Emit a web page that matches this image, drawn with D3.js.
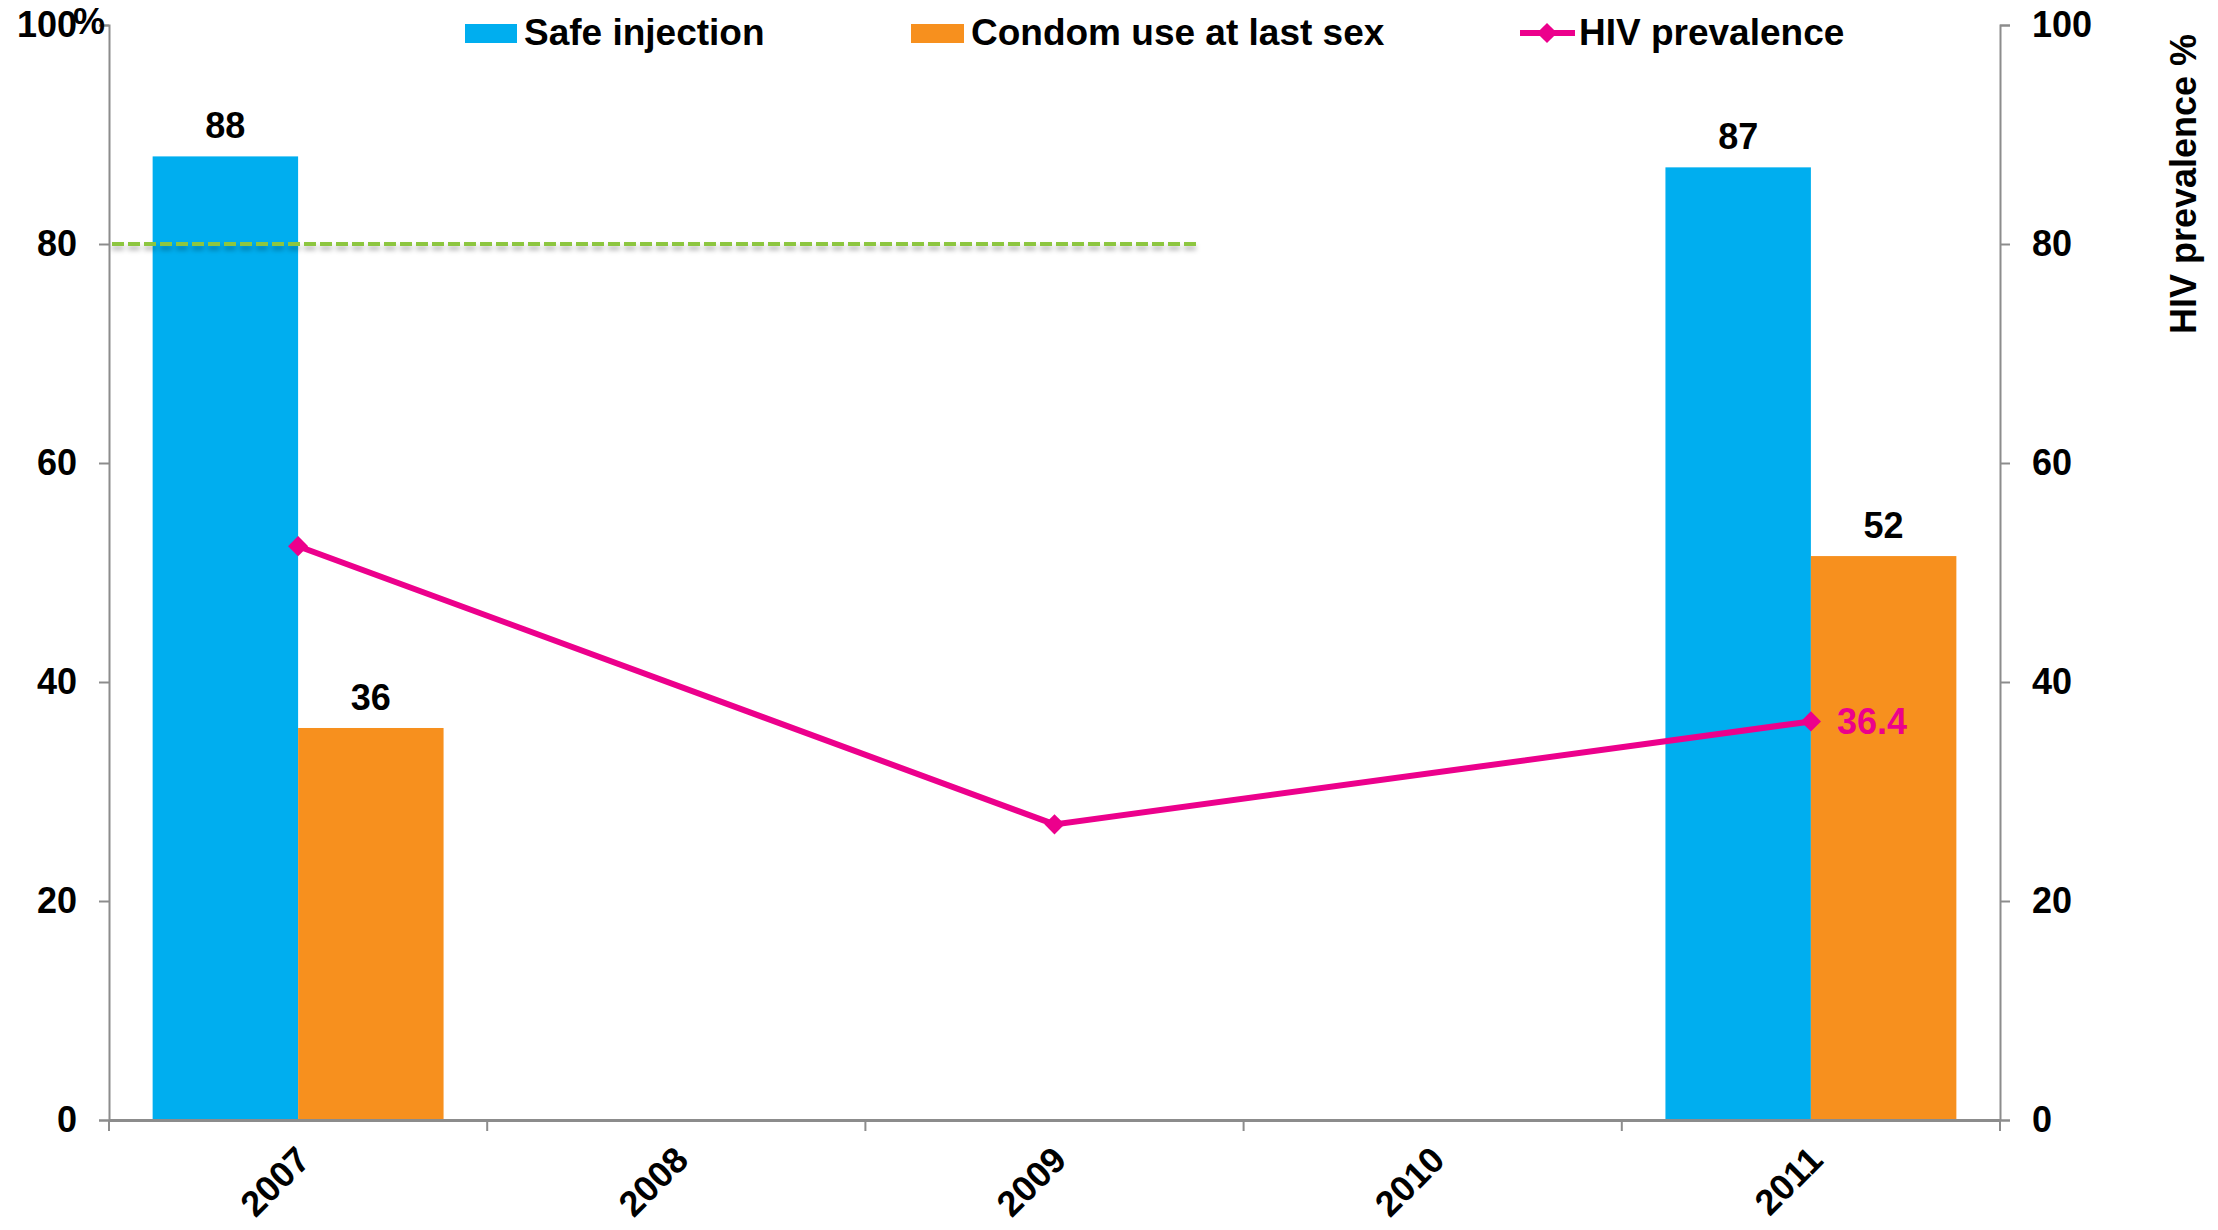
<!DOCTYPE html>
<html>
<head>
<meta charset="utf-8">
<script src="https://cdn.jsdelivr.net/npm/d3@7"></script>
<style>
  html, body { margin: 0; padding: 0; background: #fff; }
  svg { display: block; font-family: "Liberation Sans", Arial, sans-serif; font-weight: bold; }
</style>
</head>
<body>
<svg id="chart" width="2218" height="1230"></svg>
<script>
// ---- data ----
const years = ["2007", "2008", "2009", "2010", "2011"];
const seriesNames = ["Safe injection", "Condom use at last sex"];
const safeInjection = [88, null, null, null, 87];
const condomUse = [35.8, null, null, null, 51.5];
const barLabels = [["88", "36"], [null, null], [null, null], [null, null], ["87", "52"]];
const hivPrevalence = [52.4, null, 27.0, null, 36.4];
const hivLabels = [null, null, null, null, "36.4"];
const yTicks = [0, 20, 40, 60, 80, 100];
const targetValue = 80;
const targetSpan = [0, 2.88]; // in category units
const legendNames = ["Safe injection", "Condom use at last sex", "HIV prevalence"];
const rightTitle = "HIV prevalence %";

// ---- style ----
const colors = { safe: "#00AEEF", condom: "#F7901E", hiv: "#EC008C", target: "#8DC63F", axis: "#8C8C8C" };
const FS = 36;

const svg = d3.select("#chart");
const pLeft = 109, pRight = 2000, pTop = 25, pBottom = 1120;

const x = d3.scaleBand().domain(years).range([pLeft, pRight]).paddingInner(0).paddingOuter(0);
const xs = d3.scaleBand().domain(seriesNames).range([0, x.bandwidth()]).paddingInner(0).paddingOuter(0.3);
const xi = d3.scaleLinear().domain([0, years.length]).range([pLeft, pRight]);
const y = d3.scaleLinear().domain([0, 100]).range([pBottom, pTop]);
const y2 = d3.scaleLinear().domain([0, 100]).range([pBottom, pTop]);

const defs = svg.append("defs");
const f = defs.append("filter").attr("id", "shadow")
  .attr("filterUnits", "userSpaceOnUse")
  .attr("x", 0).attr("y", y(targetValue) - 20).attr("width", 2218).attr("height", 50);
f.append("feDropShadow").attr("dx", 0).attr("dy", 4).attr("stdDeviation", 2.5).attr("flood-color", "#000").attr("flood-opacity", 0.3);

// bars
const barData = [];
years.forEach((yr, i) => {
  if (safeInjection[i] != null) barData.push({ yr, s: seriesNames[0], v: safeInjection[i], c: colors.safe, lab: barLabels[i][0] });
  if (condomUse[i] != null) barData.push({ yr, s: seriesNames[1], v: condomUse[i], c: colors.condom, lab: barLabels[i][1] });
});
svg.append("g").selectAll("rect").data(barData).join("rect")
  .attr("x", d => x(d.yr) + xs(d.s))
  .attr("y", d => y(d.v))
  .attr("width", xs.bandwidth())
  .attr("height", d => y(0) - y(d.v))
  .attr("fill", d => d.c);

svg.append("g").selectAll("text").data(barData).join("text")
  .attr("x", d => x(d.yr) + xs(d.s) + xs.bandwidth() / 2)
  .attr("y", d => y(d.v) - 18)
  .attr("text-anchor", "middle")
  .attr("font-size", FS)
  .attr("fill", "#000")
  .text(d => d.lab);

// target dashed line
svg.append("line")
  .attr("x1", xi(targetSpan[0]) + 3).attr("x2", xi(targetSpan[1]))
  .attr("y1", y(targetValue)).attr("y2", y(targetValue))
  .attr("stroke", colors.target).attr("stroke-width", 4)
  .attr("stroke-dasharray", "12,4")
  .attr("filter", "url(#shadow)");

// axes
const gl = svg.append("g").attr("transform", `translate(${pLeft},0)`)
  .call(d3.axisLeft(y).tickValues(yTicks).tickSize(10).tickPadding(22).tickFormat(d3.format("d")));
const gr = svg.append("g").attr("transform", `translate(${pRight},0)`)
  .call(d3.axisRight(y2).tickValues(yTicks).tickSize(10).tickPadding(22).tickFormat(d3.format("d")));
const gx = svg.append("g").attr("transform", `translate(0,${pBottom})`)
  .call(d3.axisBottom(x).tickSize(0).tickFormat(""));
// category boundary ticks
svg.append("g").selectAll("line").data(d3.range(years.length + 1)).join("line")
  .attr("x1", d => xi(d)).attr("x2", d => xi(d))
  .attr("y1", pBottom).attr("y2", pBottom + 11)
  .attr("stroke", colors.axis).attr("stroke-width", 2);

[gl, gr, gx].forEach(g => {
  g.selectAll(".domain").attr("stroke", colors.axis).attr("stroke-width", 2);
  g.selectAll(".tick line").attr("stroke", colors.axis).attr("stroke-width", 2);
  g.selectAll("text").attr("font-size", FS).attr("font-weight", "bold").attr("fill", "#000")
    .attr("font-family", "Liberation Sans, Arial, sans-serif");
});
gx.select(".domain").attr("stroke-width", 3);

// x labels rotated
svg.append("g").selectAll("text").data(years).join("text")
  .attr("transform", d => `translate(${x(d) + x.bandwidth() / 2 + 14},${pBottom + 42}) rotate(-45)`)
  .attr("text-anchor", "end")
  .attr("font-size", FS)
  .attr("fill", "#000")
  .text(d => d);

// "%" unit label on left axis
svg.append("text").attr("x", 73).attr("y", 34).attr("font-size", FS).attr("fill", "#000").text("%");

// right title
svg.append("text")
  .attr("transform", `translate(2196,${(pTop + 343) / 2}) rotate(-90)`)
  .attr("text-anchor", "middle")
  .attr("font-size", FS)
  .attr("fill", "#000")
  .text(rightTitle);

// HIV line
const hivPts = years.map((yr, i) => ({ yr, v: hivPrevalence[i], lab: hivLabels[i] })).filter(d => d.v != null);
const cx = d => x(d.yr) + x.bandwidth() / 2;
svg.append("path").datum(hivPts)
  .attr("d", d3.line().x(cx).y(d => y2(d.v)))
  .attr("fill", "none").attr("stroke", colors.hiv).attr("stroke-width", 6);
const diamond = d3.symbol().type(d3.symbolDiamond2).size(260);
svg.append("g").selectAll("path").data(hivPts).join("path")
  .attr("d", diamond)
  .attr("transform", d => `translate(${cx(d)},${y2(d.v)})`)
  .attr("fill", colors.hiv);
svg.append("g").selectAll("text").data(hivPts.filter(d => d.lab)).join("text")
  .attr("x", d => cx(d) + 26).attr("y", d => y2(d.v) + 13)
  .attr("font-size", FS).attr("fill", colors.hiv)
  .text(d => d.lab);

// legend
const lg = svg.append("g");
const legendX = [465, 911, 1520];
const legendY = 33;
lg.append("rect").attr("x", legendX[0]).attr("y", legendY - 9).attr("width", 52).attr("height", 19).attr("fill", colors.safe);
lg.append("rect").attr("x", legendX[1]).attr("y", legendY - 9).attr("width", 53).attr("height", 19).attr("fill", colors.condom);
lg.append("line").attr("x1", legendX[2]).attr("x2", legendX[2] + 55).attr("y1", legendY).attr("y2", legendY)
  .attr("stroke", colors.hiv).attr("stroke-width", 6);
lg.append("path").attr("d", diamond).attr("transform", `translate(${legendX[2] + 27},${legendY})`).attr("fill", colors.hiv);
const textX = [524, 971, 1579];
lg.selectAll("text").data(legendNames).join("text")
  .attr("x", (d, i) => textX[i]).attr("y", legendY + 12)
  .attr("font-size", FS + 1).attr("fill", "#000")
  .text(d => d);
</script>
</body>
</html>
